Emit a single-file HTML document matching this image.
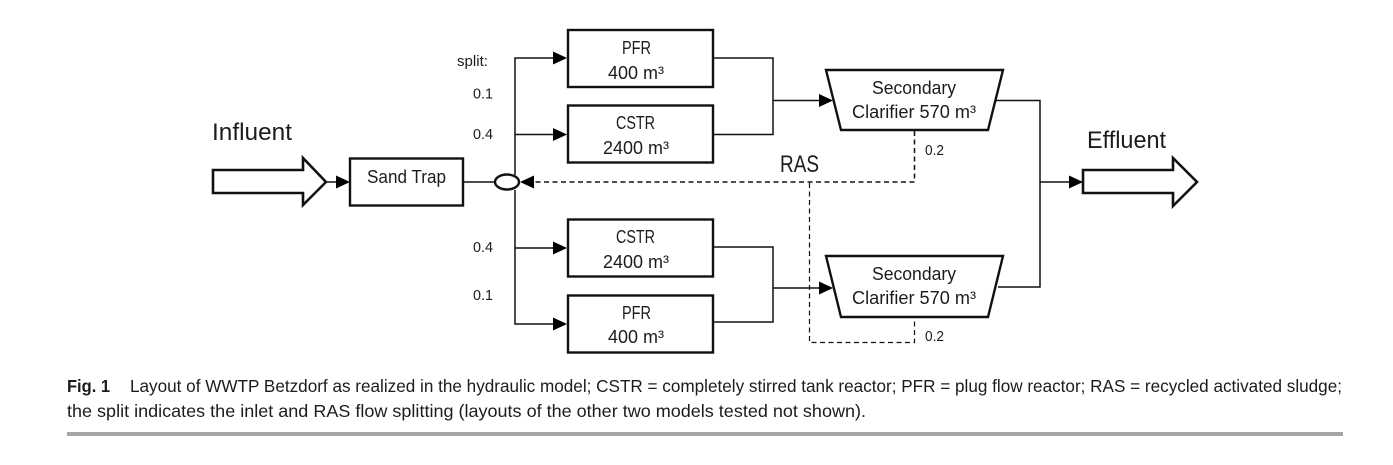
<!DOCTYPE html>
<html><head><meta charset="utf-8"><style>
html,body{margin:0;padding:0;background:#fff}
svg{display:block}
text{font-family:"Liberation Sans",sans-serif;fill:#1c1c1c}
</style></head><body>
<svg width="1393" height="465" viewBox="0 0 1393 465" xmlns="http://www.w3.org/2000/svg">
<g fill="none" stroke="#111" stroke-width="2.2">
<polygon points="213,170 303,170 303,158 326,182 303,205 303,193 213,193" stroke-width="2.6"/>
<polygon points="1083,170 1173,170 1173,158 1197,182 1173,206 1173,193 1083,193" stroke-width="2.6"/>
<rect x="350" y="158.500" width="113" height="47" stroke-width="2.4"/>
<rect x="568" y="30" width="145" height="57" stroke-width="2.4"/>
<rect x="568" y="105.500" width="145" height="57" stroke-width="2.4"/>
<rect x="568" y="219.500" width="145" height="57" stroke-width="2.4"/>
<rect x="568" y="295.500" width="145" height="57" stroke-width="2.4"/>
<polygon points="826,70 1003,70 988,130 841,130" stroke-width="2.4"/>
<polygon points="826,256 1003,256 988,317 841,317" stroke-width="2.4"/>
<ellipse cx="507" cy="182" rx="12" ry="7.500" stroke-width="2.4"/>
</g>
<g fill="none" stroke="#111" stroke-width="1.500">
<path d="M326 182H338"/>
<path d="M463 182H495"/>
<path d="M515 190V324H556"/>
<path d="M515 175V58H556"/>
<path d="M515 134.500H556"/>
<path d="M515 248H556"/>
<path d="M713 58H773V134.500H713"/>
<path d="M773 100.500H820"/>
<path d="M713 247H773V322H713"/>
<path d="M773 288H820"/>
<path d="M996 100.500H1040V287H998"/>
<path d="M1040 182H1070"/>
</g>
<g fill="none" stroke="#111" stroke-width="1.500" stroke-dasharray="5 3.500">
<path d="M914.500 131V182H532"/>
<path d="M809.500 183V342.500H914.500V318" stroke-width="1.200"/>
</g>
<g fill="#000">
<polygon points="336,175.500 350,182 336,188.500"/>
<polygon points="553,51.500 567,58 553,64.500"/>
<polygon points="553,128 567,134.500 553,141"/>
<polygon points="553,241.500 567,248 553,254.500"/>
<polygon points="553,317.500 567,324 553,330.500"/>
<polygon points="819,94 833,100.500 819,107"/>
<polygon points="819,281.500 833,288 819,294.500"/>
<polygon points="1069,175.500 1083,182 1069,188.500"/>
<polygon points="534,175.500 520,182 534,188.500"/>
</g>
<g font-size="24">
<text x="212" y="140" textLength="80" lengthAdjust="spacingAndGlyphs">Influent</text>
<text x="1087" y="148" textLength="79" lengthAdjust="spacingAndGlyphs">Effluent</text>
<text x="780" y="172" textLength="39" lengthAdjust="spacingAndGlyphs">RAS</text>
</g>
<g font-size="18">
<text x="367" y="183" textLength="79" lengthAdjust="spacingAndGlyphs">Sand Trap</text>
<text x="622" y="54" textLength="29" lengthAdjust="spacingAndGlyphs">PFR</text>
<text x="608" y="79" textLength="56" lengthAdjust="spacingAndGlyphs">400 m³</text>
<text x="616" y="129" textLength="39" lengthAdjust="spacingAndGlyphs">CSTR</text>
<text x="603" y="154" textLength="66" lengthAdjust="spacingAndGlyphs">2400 m³</text>
<text x="616" y="243" textLength="39" lengthAdjust="spacingAndGlyphs">CSTR</text>
<text x="603" y="268" textLength="66" lengthAdjust="spacingAndGlyphs">2400 m³</text>
<text x="622" y="319" textLength="29" lengthAdjust="spacingAndGlyphs">PFR</text>
<text x="608" y="343" textLength="56" lengthAdjust="spacingAndGlyphs">400 m³</text>
<text x="872" y="94" textLength="84" lengthAdjust="spacingAndGlyphs">Secondary</text>
<text x="852" y="118" textLength="124" lengthAdjust="spacingAndGlyphs">Clarifier 570 m³</text>
<text x="872" y="280" textLength="84" lengthAdjust="spacingAndGlyphs">Secondary</text>
<text x="852" y="304" textLength="124" lengthAdjust="spacingAndGlyphs">Clarifier 570 m³</text>
</g>
<g font-size="14.500">
<text x="457" y="66" textLength="31" lengthAdjust="spacingAndGlyphs">split:</text>
<text x="473" y="98.500" textLength="20" lengthAdjust="spacingAndGlyphs">0.1</text>
<text x="473" y="139" textLength="20" lengthAdjust="spacingAndGlyphs">0.4</text>
<text x="473" y="252" textLength="20" lengthAdjust="spacingAndGlyphs">0.4</text>
<text x="473" y="300" textLength="20" lengthAdjust="spacingAndGlyphs">0.1</text>
<text x="925" y="155" textLength="19" lengthAdjust="spacingAndGlyphs">0.2</text>
<text x="925" y="341" textLength="19" lengthAdjust="spacingAndGlyphs">0.2</text>
</g>
<g font-size="17.500">
<text x="67" y="392" font-weight="bold" textLength="43" lengthAdjust="spacingAndGlyphs">Fig. 1</text>
<text x="130" y="392" textLength="1212" lengthAdjust="spacingAndGlyphs">Layout of WWTP Betzdorf as realized in the hydraulic model; CSTR = completely stirred tank reactor; PFR = plug flow reactor; RAS = recycled activated sludge;</text>
<text x="67" y="417" textLength="799" lengthAdjust="spacingAndGlyphs">the split indicates the inlet and RAS flow splitting (layouts of the other two models tested not shown).</text>
</g>
<rect x="67" y="432" width="1276" height="4" fill="#a6a6a6"/>
</svg>
</body></html>
